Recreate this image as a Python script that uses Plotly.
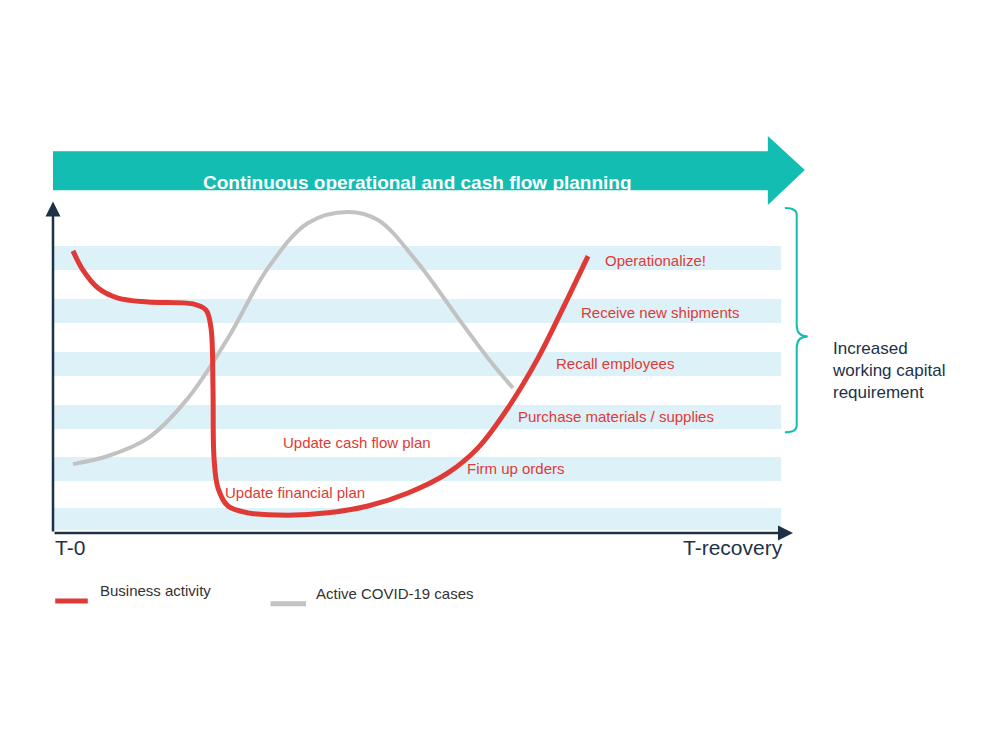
import plotly.graph_objects as go

# Business activity curve (x: 0=T-0 .. 100, y: 0..100 level)
red_x = [2.7,4.05,6.08,8.78,12.84,18.92,20.68,21.35,21.62,21.76,22.3,23.65,26.35,31.76,37.16,42.57,47.97,53.38,57.43,61.49,65.54,68.92,72.3]
red_y = [86.8,80.9,75.4,72.3,71.1,70.5,68.6,63.1,44.6,23.1,13.8,8.3,6.2,5.5,6.2,8.3,12.3,18.5,26.2,38.5,53.8,69.2,85.2]
# Active COVID-19 cases
grey_x = [2.7,7.43,12.84,18.24,23.65,29.05,34.46,39.86,43.92,49.32,54.73,58.78,62.16]
grey_y = [21.2,23.7,29.2,41.5,60,81.5,95.4,98.8,96.3,83.1,66.2,53.8,44.6]
band_lo = [80.9,64.6,48.3,32.0,16.0,0.9]
band_hi = [88.3,72.0,55.7,39.4,23.4,7.7]
step_labels = ["Operationalize!","Receive new shipments","Recall employees","Purchase materials / supplies","Firm up orders","Update cash flow plan","Update financial plan"]
step_x = [74.3,71.1,67.7,62.6,55.7,30.8,23.0]
step_y = [84.0,68.0,52.3,36.0,20.0,27.7,12.6]

RED = "#e03a36"; GREY = "#c2c2c2"; TEAL = "#13bdb2"; NAVY = "#1d3247"
FONT = "Liberation Sans, Arial, sans-serif"

fig = go.Figure()
for lo, hi in zip(band_lo, band_hi):
    fig.add_shape(type="rect", xref="x", yref="y", x0=0, x1=98.4, y0=lo, y1=hi,
                  fillcolor="#dcf1f8", line_width=0, layer="below")
fig.add_trace(go.Scatter(x=grey_x, y=grey_y, mode="lines", line=dict(color=GREY, width=4, shape="spline")))
fig.add_trace(go.Scatter(x=red_x, y=red_y, mode="lines", line=dict(color=RED, width=5, shape="spline")))

for t, x, y in zip(step_labels, step_x, step_y):
    fig.add_annotation(x=x, y=y, xref="x", yref="y", text=t, showarrow=False, xanchor="left",
                       font=dict(color=RED, size=15, family=FONT))

# axes arrows
fig.add_annotation(x=0, y=1.02, ax=0, ay=0, xref="x domain", yref="y domain", axref="x domain", ayref="y domain",
                   text="", showarrow=True, arrowhead=2, arrowsize=1.2, arrowwidth=2.5, arrowcolor=NAVY)
fig.add_annotation(x=1.0, y=0, ax=0, ay=0, xref="x domain", yref="y domain", axref="x domain", ayref="y domain",
                   text="", showarrow=True, arrowhead=2, arrowsize=1.2, arrowwidth=2.5, arrowcolor=NAVY)

# banner arrow
fig.add_shape(type="path", xref="paper", yref="paper",
              path="M 0 1.055 L 0.966 1.055 L 0.966 1.009 L 1.016 1.117 L 0.966 1.2215 L 0.966 1.175 L 0 1.175 Z",
              fillcolor=TEAL, line_width=0)
fig.add_annotation(x=0.493, y=1.117, xref="paper", yref="paper", showarrow=False,
                   text="<b>Continuous operational and cash flow planning</b>",
                   font=dict(color="white", size=19, family=FONT))

# bracket
fig.add_shape(type="path", xref="paper", yref="paper",
              path="M 0.989 1.0 Q 1.005 1.0 1.005 0.98 L 1.005 0.64 Q 1.005 0.605 1.02 0.605 Q 1.005 0.605 1.005 0.57 L 1.005 0.33 Q 1.005 0.31 0.989 0.31",
              line=dict(color=TEAL, width=2))
fig.add_annotation(x=1.05, y=0.5, xref="paper", yref="paper", showarrow=False, xanchor="left", align="left",
                   text="Increased<br>working capital<br>requirement", font=dict(color=NAVY, size=17, family=FONT))

fig.add_annotation(x=0, y=-0.085, xref="paper", yref="paper", showarrow=False, xanchor="left",
                   text="T-0", font=dict(color=NAVY, size=21, family=FONT))
fig.add_annotation(x=0.989, y=-0.085, xref="paper", yref="paper", showarrow=False, xanchor="right",
                   text="T-recovery", font=dict(color=NAVY, size=21, family=FONT))

# legend
fig.add_shape(type="line", xref="paper", yref="paper", x0=0.003, x1=0.047, y0=-0.209, y1=-0.209,
              line=dict(color=RED, width=5))
fig.add_annotation(x=0.061, y=-0.209, xref="paper", yref="paper", showarrow=False, xanchor="left",
                   text="Business activity", font=dict(color="#333", size=15, family=FONT))
fig.add_shape(type="line", xref="paper", yref="paper", x0=0.294, x1=0.342, y0=-0.218, y1=-0.218,
              line=dict(color=GREY, width=5))
fig.add_annotation(x=0.353, y=-0.218, xref="paper", yref="paper", showarrow=False, xanchor="left",
                   text="Active COVID-19 cases", font=dict(color="#333", size=15, family=FONT))

fig.update_layout(width=999, height=748, margin=dict(l=45, r=214, t=200, b=223),
                  plot_bgcolor="white", paper_bgcolor="white", showlegend=False,
                  xaxis=dict(range=[0, 100], visible=False),
                  yaxis=dict(range=[0, 100], visible=False))
fig.write_html("out.html")
